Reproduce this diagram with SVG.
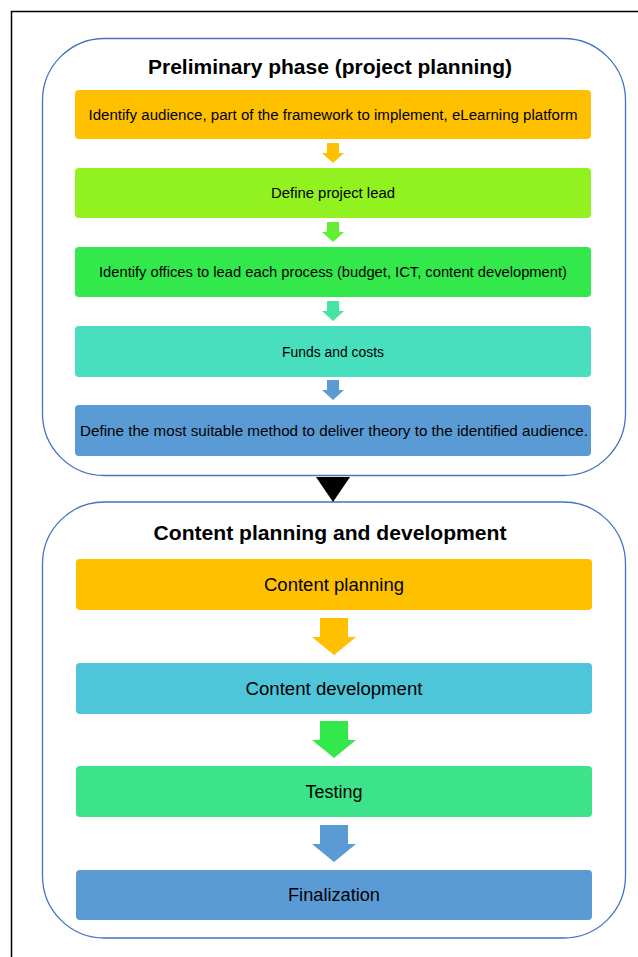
<svg xmlns="http://www.w3.org/2000/svg" width="638" height="957" viewBox="0 0 638 957">
  <style>
    .frame { fill: #ffffff; stroke: #000000; stroke-width: 1.5; }
    .phase { fill: #ffffff; stroke: #4472C4; stroke-width: 1.3; }
    .title { font-family: "Liberation Sans", Arial, sans-serif; font-weight: bold; font-size: 21px; fill: #000000; text-anchor: middle; }
    .small { font-family: "Liberation Sans", Arial, sans-serif; font-size: 14px; fill: #000000; text-anchor: middle; }
    .big { font-family: "Liberation Sans", Arial, sans-serif; font-size: 17.5px; fill: #000000; text-anchor: middle; }
  </style>

  <rect x="0" y="0" width="638" height="957" fill="#ffffff"/>
  <rect class="frame" x="11.5" y="11.5" width="640" height="960"/>

  <!-- Phase 1 container -->
  <g id="phase-preliminary">
    <rect class="phase" x="42.5" y="38.5" width="583" height="437" rx="62" ry="62"/>
    <text class="title" x="330" y="74" textLength="364" lengthAdjust="spacingAndGlyphs">Preliminary phase (project planning)</text>
  </g>

  <g id="step-identify-audience">
    <rect x="75" y="90" width="516" height="49" rx="4" fill="#FFC000"/>
    <text class="small" x="333" y="119.5" textLength="489" lengthAdjust="spacingAndGlyphs">Identify audience, part of the framework to implement, eLearning platform</text>
  </g>
  <g id="step-project-lead">
    <rect x="75" y="168" width="516" height="50" rx="4" fill="#92F21F"/>
    <text class="small" x="333" y="198" textLength="124" lengthAdjust="spacingAndGlyphs">Define project lead</text>
  </g>
  <g id="step-offices">
    <rect x="75" y="247" width="516" height="50" rx="4" fill="#33E84A"/>
    <text class="small" x="333" y="277" textLength="468" lengthAdjust="spacingAndGlyphs">Identify offices to lead each process (budget, ICT, content development)</text>
  </g>
  <g id="step-funds">
    <rect x="75" y="326" width="516" height="51" rx="4" fill="#48DFBF"/>
    <text class="small" x="333" y="356.5" textLength="102" lengthAdjust="spacingAndGlyphs">Funds and costs</text>
  </g>
  <g id="step-method">
    <rect x="75" y="405" width="516" height="51" rx="4" fill="#5B9BD5"/>
    <text class="small" x="334" y="435.5" textLength="508" lengthAdjust="spacingAndGlyphs">Define the most suitable method to deliver theory to the identified audience.</text>
  </g>

  <!-- Phase 2 container -->
  <g id="phase-content">
    <rect class="phase" x="42.5" y="502" width="583" height="436" rx="62" ry="62"/>
    <text class="title" x="330" y="539.5" textLength="353" lengthAdjust="spacingAndGlyphs">Content planning and development</text>
  </g>

  <g id="step-content-planning">
    <rect x="76" y="559" width="516" height="51" rx="4" fill="#FFC000"/>
    <text class="big" x="334" y="590.5" textLength="140" lengthAdjust="spacingAndGlyphs">Content planning</text>
  </g>
  <g id="step-content-development">
    <rect x="76" y="663" width="516" height="51" rx="4" fill="#4FC5D9"/>
    <text class="big" x="334" y="694.5" textLength="177" lengthAdjust="spacingAndGlyphs">Content development</text>
  </g>
  <g id="step-testing">
    <rect x="76" y="766" width="516" height="51" rx="4" fill="#3DE38A"/>
    <text class="big" x="334" y="797.5" textLength="57" lengthAdjust="spacingAndGlyphs">Testing</text>
  </g>
  <g id="step-finalization">
    <rect x="76" y="870" width="516" height="50" rx="4" fill="#5B9BD5"/>
    <text class="big" x="334" y="901" textLength="92" lengthAdjust="spacingAndGlyphs">Finalization</text>
  </g>

  <!-- Connectors: block arrows between steps -->
  <g id="connectors">
    <polygon points="327,143 339,143 339,153 344,153 333,163 322,153 327,153" fill="#FFC000"/>
    <polygon points="327,222 339,222 339,232 344,232 333,242 322,232 327,232" fill="#62EE33"/>
    <polygon points="327,301 339,301 339,311 344,311 333,321 322,311 327,311" fill="#46E3A2"/>
    <polygon points="327,380 339,380 339,390 344,390 333,400 322,390 327,390" fill="#5B9BD5"/>

    <polygon points="316,477 350,477 333,502" fill="#000000"/>

    <polygon points="320,618 348,618 348,637 356,637 334,655 312,637 320,637" fill="#FFC000"/>
    <polygon points="320,721 348,721 348,740 356,740 334,758 312,740 320,740" fill="#33E84A"/>
    <polygon points="320,825 348,825 348,844 356,844 334,862 312,844 320,844" fill="#5B9BD5"/>
  </g>
</svg>
